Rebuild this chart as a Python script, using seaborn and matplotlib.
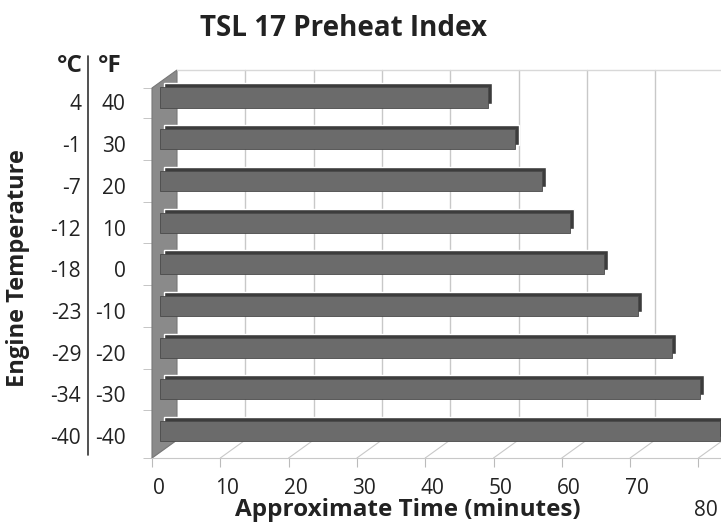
import pandas as pd
import seaborn as sns
import matplotlib.pyplot as plt
from matplotlib.transforms import offset_copy, ScaledTranslation
from matplotlib.lines import Line2D
from matplotlib.patches import Polygon

# data
fahrenheit = ['40', '30', '20', '10', '0', '-10', '-20', '-30', '-40']
celsius = ['4', '-1', '-7', '-12', '-18', '-23', '-29', '-34', '-40']
minutes = [48, 52, 56, 60, 65, 70, 75, 79, 82]
x_ticks = [0, 10, 20, 30, 40, 50, 60, 70, 80]

df = pd.DataFrame({'temp_f': fahrenheit, 'minutes': minutes})

sns.set_style('white')
plt.rcParams['font.family'] = ['Open Sans', 'DejaVu Sans']

W, H = 721, 522
fig = plt.figure(figsize=(W / 100, H / 100), dpi=100)

# front plane of the fake 3d box, in pixels
left, right, top, bottom = 152, 721, 88, 458
px_per_min = 6.83
slot = 41.7          # pixels per category
first_center = 97.5  # pixel row of the first bar
depth_px = (25, 18)  # how far the back wall sits behind the front

ax = fig.add_axes([left / W, 1 - bottom / H, (right - left) / W, (bottom - top) / H])

# bars: a dark copy pushed back gives the top face and end cap
sns.barplot(data=df, x='minutes', y='temp_f', order=fahrenheit, color='#3c3c3c',
            saturation=1, width=0.48, ax=ax)
sns.barplot(data=df, x='minutes', y='temp_f', order=fahrenheit, color='#6b6b6b',
            saturation=1, width=0.48, ax=ax, edgecolor='#4a4a4a', linewidth=0.6)
back = offset_copy(ax.transData, fig=fig, x=12, y=4, units='dots')
front = offset_copy(ax.transData, fig=fig, x=8, y=0, units='dots')
for i, p in enumerate(ax.patches):
    p.set_transform(back if i < len(minutes) else front)
    p.set_clip_on(False)
    p.set_zorder(3)

xmax = (right - left) / px_per_min
y_top = (top - first_center) / slot
y_bot = (bottom - first_center) / slot
ax.set_xlim(0, xmax)
ax.set_ylim(y_bot, y_top)

dx = depth_px[0] / px_per_min
dy = depth_px[1] / slot
grid_c = '#c8c8c8'

# left wall
wall = Polygon([(0, y_bot), (dx, y_bot - dy), (dx, y_top - dy), (0, y_top)],
               closed=True, facecolor='#8a8a8a', edgecolor='#777777', lw=0.8,
               clip_on=False, zorder=1)
ax.add_patch(wall)

# back wall grid and floor
for v in x_ticks[1:]:
    ax.plot([v + dx, v + dx], [y_bot - dy, y_top - dy], color=grid_c, lw=1,
            clip_on=False, zorder=0.5)
for v in x_ticks:
    ax.plot([v, v + dx], [y_bot, y_bot - dy], color=grid_c, lw=0.8,
            clip_on=False, zorder=0.5)
ax.plot([dx, xmax], [y_top - dy, y_top - dy], color='#d8d8d8', lw=1, clip_on=False)
ax.plot([dx, xmax], [y_bot - dy, y_bot - dy], color='#d8d8d8', lw=1, clip_on=False)

for s in ['top', 'right', 'left']:
    ax.spines[s].set_visible(False)
ax.spines['bottom'].set_color(grid_c)

# x axis
ax.set_xticks(x_ticks)
ax.tick_params(axis='x', bottom=True, length=6.5, color='#bbbbbb', pad=8,
               labelsize=15, labelcolor='#222222')
for i, lbl in enumerate(ax.get_xticklabels()):
    shift_y = -22 if i == len(x_ticks) - 1 else 0
    lbl.set_transform(lbl.get_transform() + ScaledTranslation(7 / 100, shift_y / 100, fig.dpi_scale_trans))
ax.set_xlabel('Approximate Time (minutes)', fontsize=17.5, fontweight='bold', color='#222222')
ax.xaxis.set_label_coords((408 - left) / (right - left), -40 / (bottom - top))

# y axis: °F labels, ticks between the categories
ax.set_ylabel('')
ax.set_yticks(range(len(fahrenheit)), labels=fahrenheit)
ax.set_yticks([y_top] + [k + 0.5 for k in range(len(fahrenheit) - 1)] + [y_bot], minor=True)
ax.tick_params(axis='y', which='major', left=False, length=0, pad=19,
               labelsize=15, labelcolor='#222222')
ax.tick_params(axis='y', which='minor', left=True, length=6.5, color='#bbbbbb')
for lbl in ax.get_yticklabels():
    lbl.set_transform(lbl.get_transform() + ScaledTranslation(0, -5 / 100, fig.dpi_scale_trans))

# °C labels on a second axis
sec = ax.secondary_yaxis('left')
sec.set_yticks(range(len(celsius)), labels=celsius)
sec.tick_params(length=0, pad=51, labelsize=15, labelcolor='#222222')
sec.spines['left'].set_visible(False)
for lbl in sec.get_yticklabels():
    lbl.set_transform(lbl.get_transform() + ScaledTranslation(0, -5 / 100, fig.dpi_scale_trans))

# column headers and divider
fig.add_artist(Line2D([88 / W, 88 / W], [1 - 56 / H, 1 - 455 / H], color='#333333', lw=1.2))
fig.text(83 / W, 1 - 66 / H, '°C', ha='right', va='center', fontsize=17.5,
         fontweight='bold', color='#222222')
fig.text(98 / W, 1 - 66 / H, '°F', ha='left', va='center', fontsize=17.5,
         fontweight='bold', color='#222222')

fig.text(18 / W, 1 - 268 / H, 'Engine Temperature', rotation=90, ha='center',
         va='center', fontsize=17, fontweight='bold', color='#222222')
fig.text(343 / W, 1 - 28 / H, 'TSL 17 Preheat Index', ha='center', va='center',
         fontsize=20, fontweight='bold', color='#222222')

fig.savefig('out.png', dpi=100)
